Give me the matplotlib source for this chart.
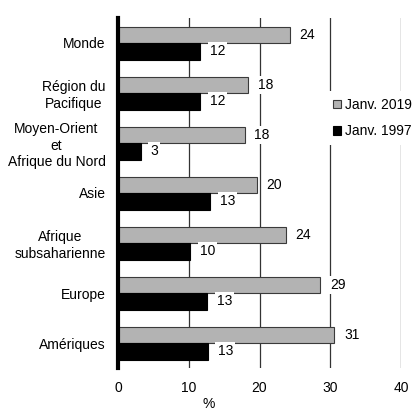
import matplotlib
matplotlib.use("Agg")
import matplotlib.pyplot as plt
import numpy as np

plt.rcParams['font.family'] = ['Liberation Sans', 'DejaVu Sans']

categories = ["Monde", "Région du\nPacifique", "Moyen-Orient\net\nAfrique du Nord", "Asie",
              "Afrique\nsubsaharienne", "Europe", "Amériques"]
jan2019 = [24.3, 18.4, 17.9, 19.6, 23.7, 28.6, 30.6]
jan1997 = [11.6, 11.6, 3.2, 13.0, 10.2, 12.6, 12.7]
series_labels = ["Janv. 2019", "Janv. 1997"]
xticks = [0, 10, 20, 30, 40]

FS = 10

fig = plt.figure(figsize=(4.18, 4.18), dpi=100)
ax = fig.add_axes([118/418, 50/418, 283/418, 350/418])

n = len(categories)
y = np.arange(n)
h = 0.33
b1 = ax.barh(y - h/2, jan2019, height=h, color='#b3b3b3', edgecolor='#3a3a3a', linewidth=0.8,
             label=series_labels[0], zorder=3)
b2 = ax.barh(y + h/2, jan1997, height=h, color='black', edgecolor='black', linewidth=0.8,
             label=series_labels[1], zorder=3)

for yy, v in zip(y - h/2, jan2019):
    ax.annotate(f"{v:.0f}", (v, yy), xytext=(7, 0), textcoords='offset points',
                va='center', ha='left', fontsize=FS, zorder=5,
                bbox=dict(facecolor='white', edgecolor='none', pad=1.5))
for yy, v in zip(y + h/2, jan1997):
    ax.annotate(f"{v:.0f}", (v, yy), xytext=(7, 0), textcoords='offset points',
                va='center', ha='left', fontsize=FS, zorder=5,
                bbox=dict(facecolor='white', edgecolor='none', pad=1.5))

ax.set_ylim(n - 0.5, -0.5)
ax.set_xlim(0, 40)
ax.set_yticks(y)
ax.set_yticklabels(categories, fontsize=FS, multialignment='center')
ax.set_xticks(xticks)
ax.set_xticklabels([str(t) for t in xticks], fontsize=FS)
ax.tick_params(axis='y', length=0, pad=9)
ax.tick_params(axis='x', length=0, pad=9)

for s in ['top', 'right', 'bottom']:
    ax.spines[s].set_visible(False)
ax.spines['left'].set_linewidth(3)
ax.spines['left'].set_zorder(4)

for t in xticks[1:]:
    ax.axvline(t, color='#333333', linewidth=0.9, zorder=1)

ax.set_xlabel('%', fontsize=FS, labelpad=2)
ax.xaxis.label.set_x(0.32)

leg = fig.legend(handles=[b1, b2], labels=series_labels, loc='center left',
                 bbox_to_anchor=(326/418, 1 - 118/418), fontsize=FS, frameon=True,
                 handlelength=0.55, handleheight=0.55, handletextpad=0.3, labelspacing=0.9,
                 borderpad=0.5, borderaxespad=0)
leg.get_frame().set_facecolor('white')
leg.get_frame().set_edgecolor('none')
leg.get_frame().set_alpha(1)
leg.set_zorder(10)

fig.savefig("out.png", dpi=100)
